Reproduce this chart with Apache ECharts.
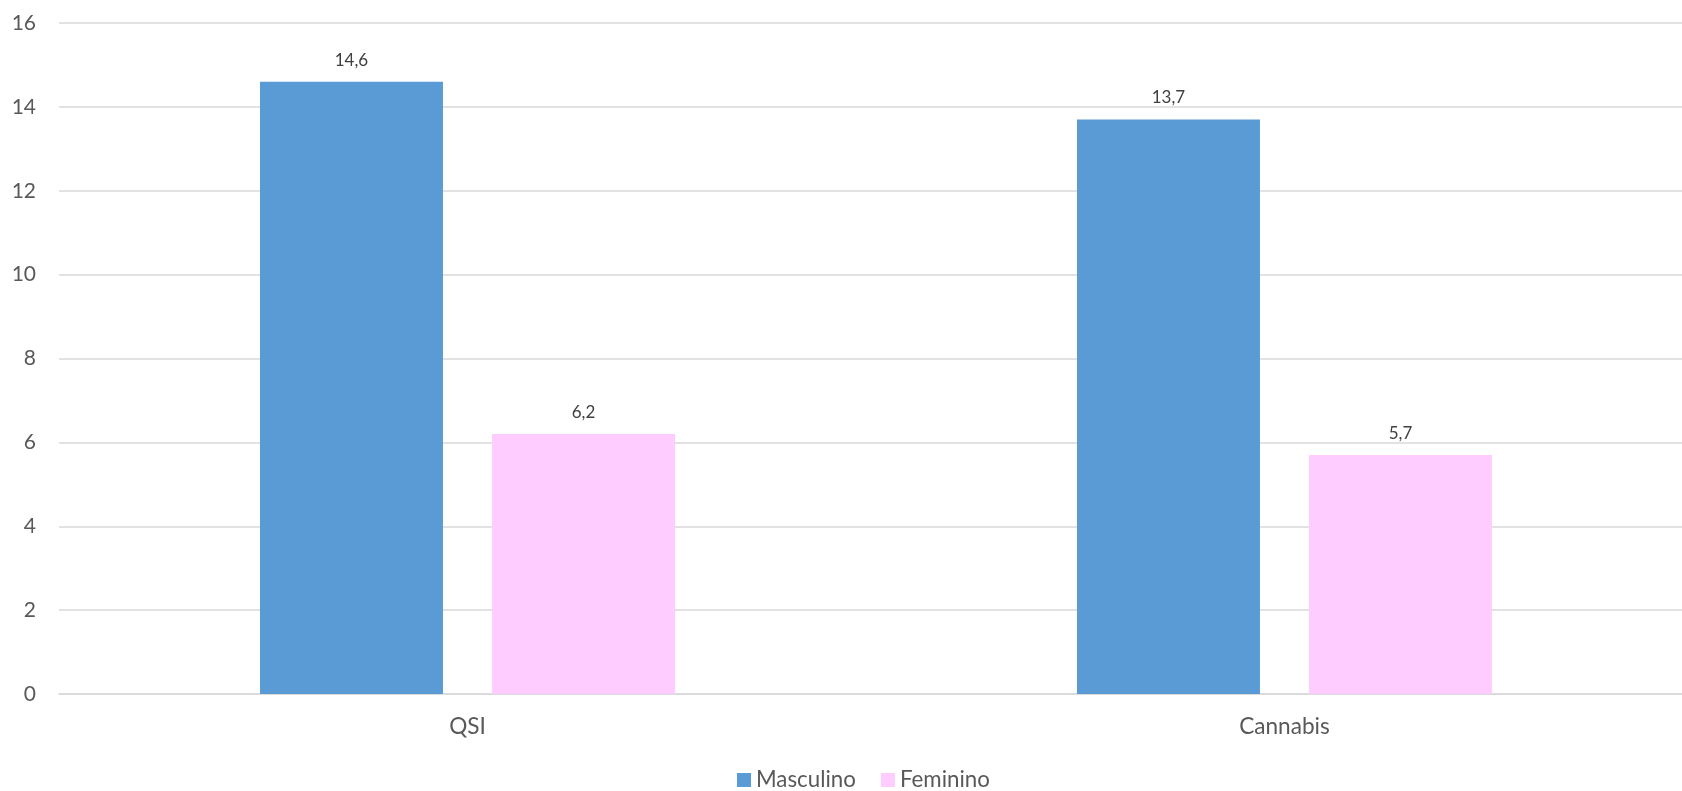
<!DOCTYPE html>
<html>
<head>
<meta charset="utf-8">
<script src="https://cdn.jsdelivr.net/npm/echarts@6/dist/echarts.min.js"></script>
<style>
html,body{margin:0;padding:0;background:#fff;}
#chart{width:1682px;height:791px;}
</style>
</head>
<body>
<div id="chart"></div>
<script>
const categories = ['QSI', 'Cannabis'];
const seriesNames = ['Masculino', 'Feminino'];
const masculino = [14.6, 13.7];
const feminino = [6.2, 5.7];
const yTicks = [0, 2, 4, 6, 8, 10, 12, 14, 16];

const FONT = "Lato, 'Liberation Sans', sans-serif";
const chart = echarts.init(document.getElementById('chart'), null, {renderer: 'canvas'});

const labelCfg = {
  show: true,
  position: 'top',
  distance: 13,
  color: '#404040',
  fontFamily: FONT,
  fontSize: 17,
  formatter: p => String(p.value).replace('.', ',')
};

chart.setOption({
  animation: false,
  backgroundColor: '#ffffff',
  color: ['#5B9BD5', '#FFCCFF'],
  textStyle: {fontFamily: FONT},
  grid: {left: 59, right: -11, top: 23, bottom: 97, containLabel: false, outerBoundsMode: 'none'},
  legend: {
    data: seriesNames,
    left: 732,
    top: 764,
    itemWidth: 14,
    itemHeight: 14,
    itemGap: 25,
    icon: 'rect',
    textStyle: {color: '#595959', fontSize: 22.3, fontFamily: FONT}
  },
  xAxis: {
    type: 'category',
    data: categories,
    axisLine: {show: true, lineStyle: {color: '#D9D9D9', width: 1.5}},
    axisTick: {show: false},
    axisLabel: {color: '#595959', fontSize: 22.6, fontFamily: FONT, margin: 21},
    splitLine: {show: false}
  },
  yAxis: {
    type: 'value',
    min: yTicks[0],
    max: yTicks[yTicks.length - 1],
    interval: yTicks[1] - yTicks[0],
    axisLine: {show: false},
    axisTick: {show: false},
    axisLabel: {color: '#595959', fontSize: 21, fontFamily: FONT, margin: 23},
    splitLine: {show: true, lineStyle: {color: '#D9D9D9', width: 1.5}}
  },
  series: [
    {
      name: seriesNames[0],
      type: 'bar',
      data: masculino,
      barWidth: 183,
      barGap: '26.8%',
      label: labelCfg
    },
    {
      name: seriesNames[1],
      type: 'bar',
      data: feminino,
      barWidth: 183,
      barGap: '26.8%',
      label: labelCfg
    }
  ]
});
</script>
</body>
</html>
